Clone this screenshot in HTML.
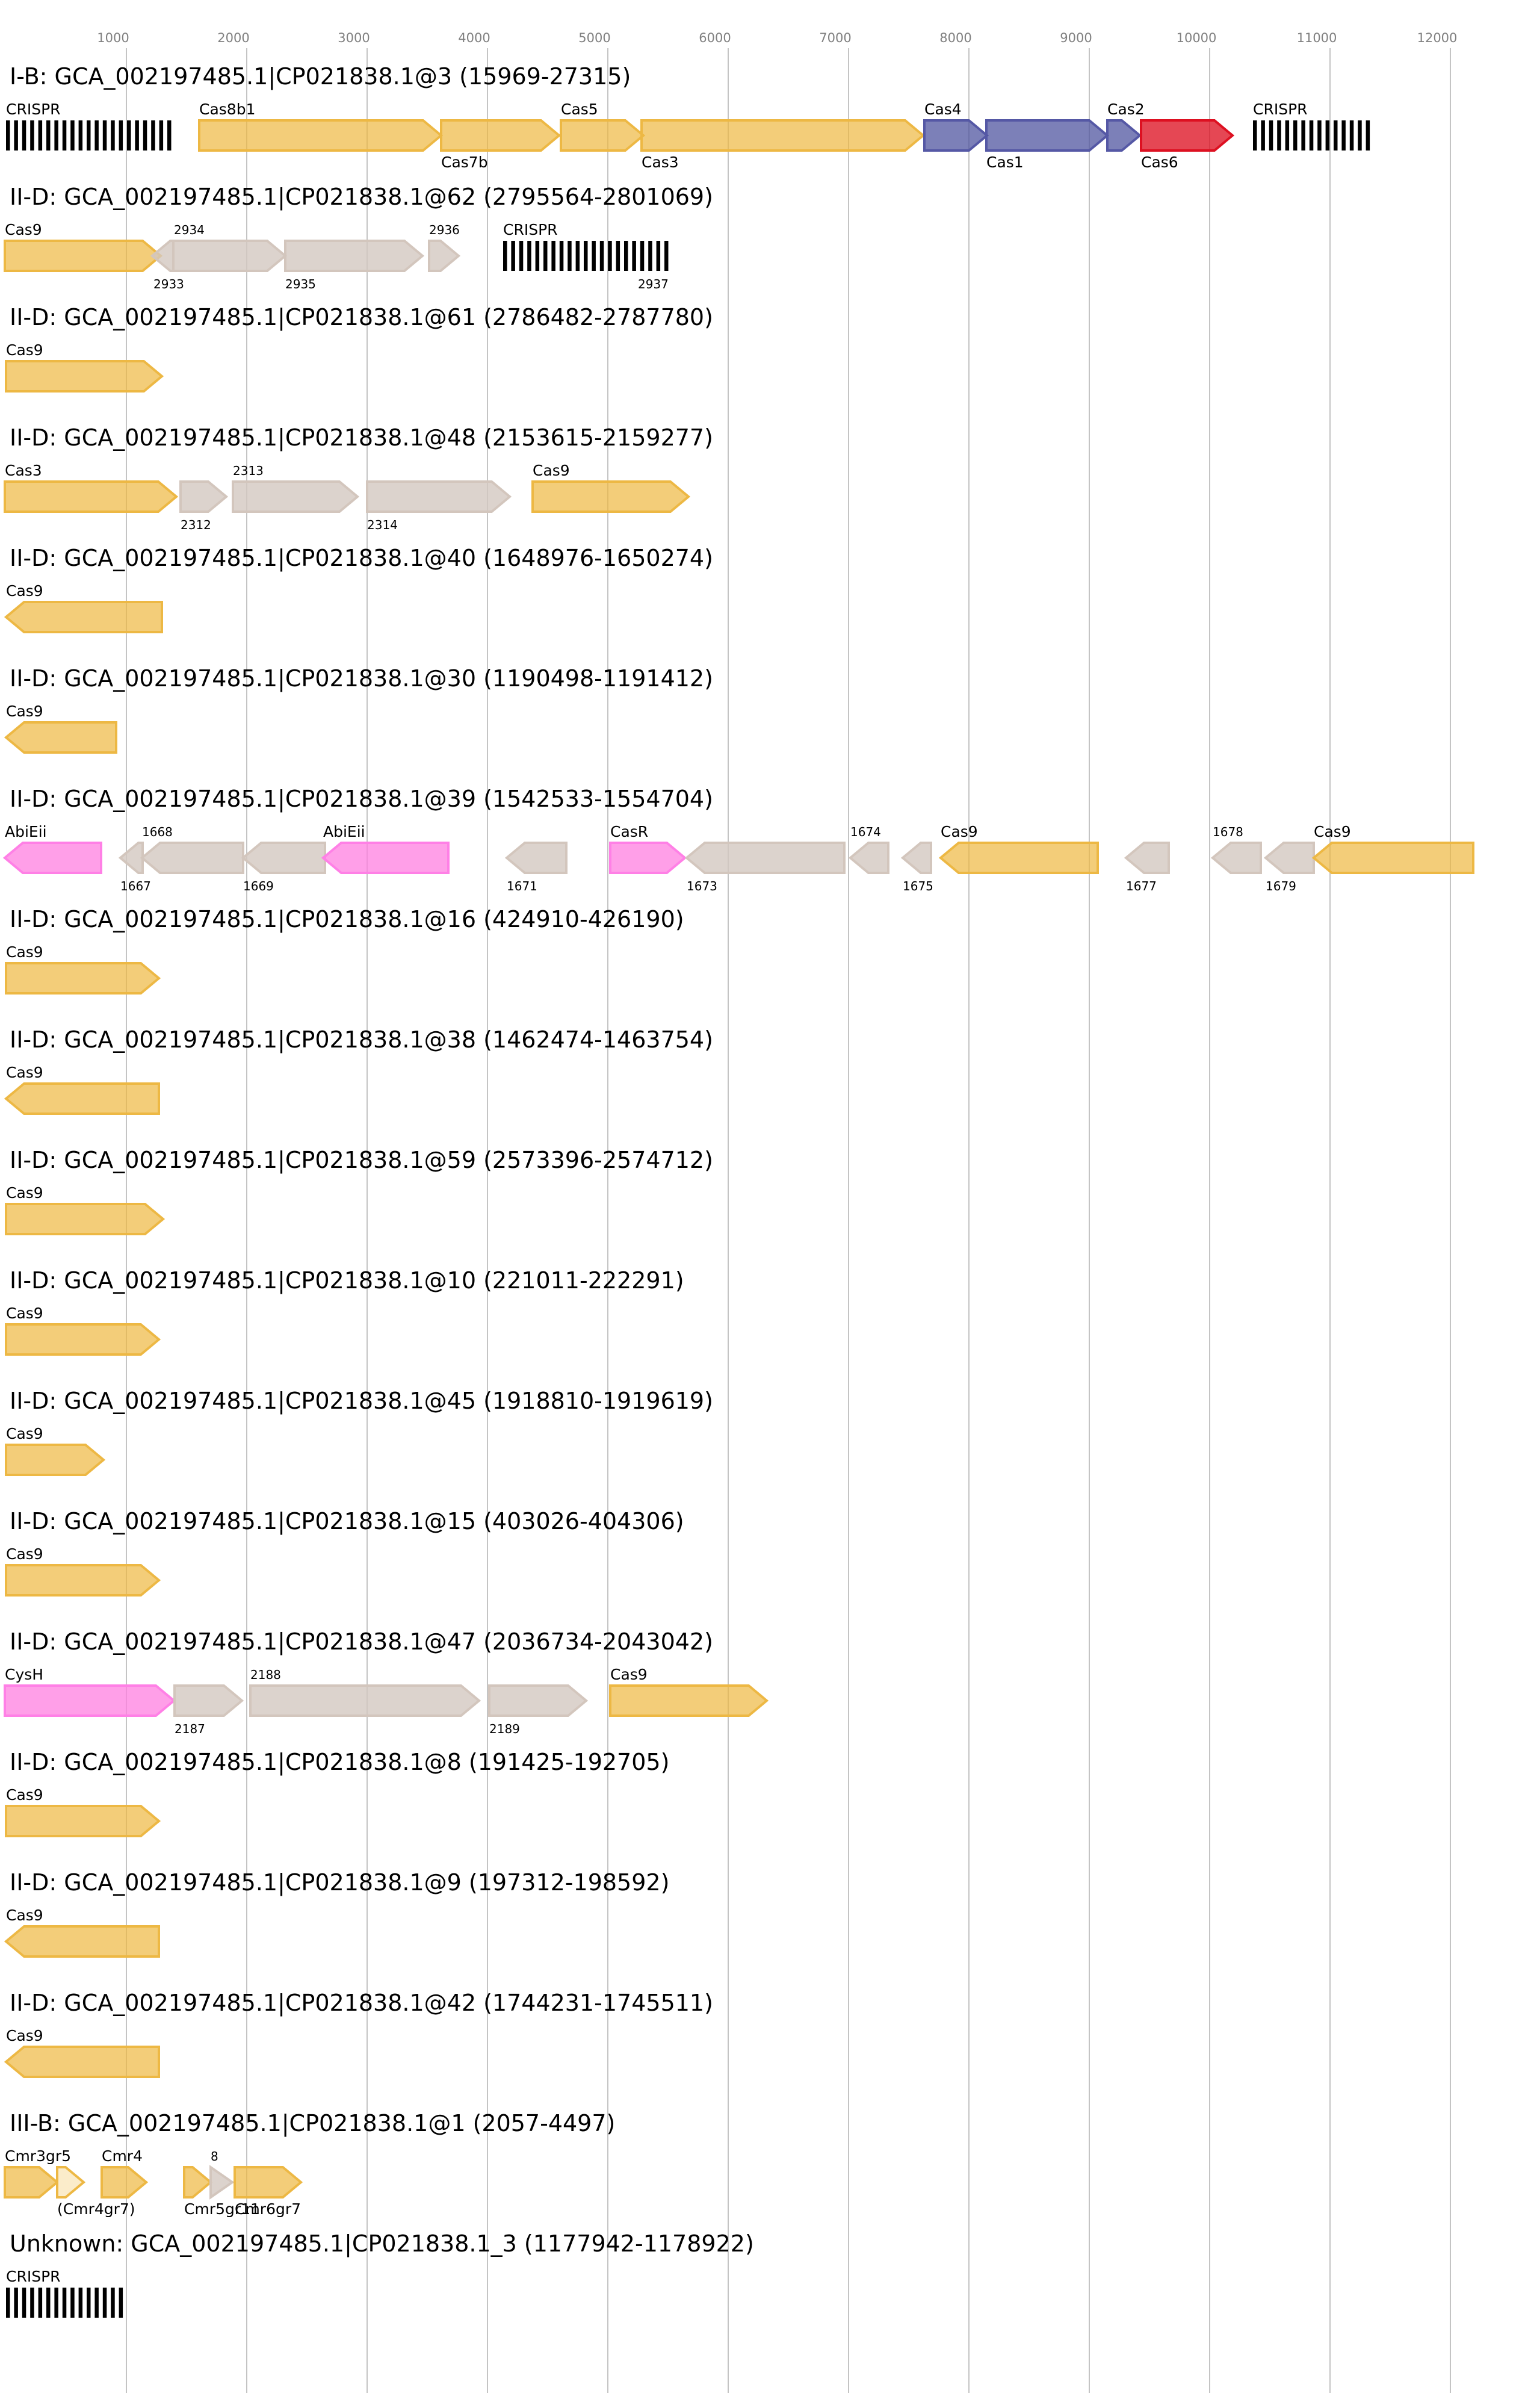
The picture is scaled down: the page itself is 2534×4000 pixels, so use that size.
<!DOCTYPE html>
<html><head><meta charset="utf-8"><style>
html,body{margin:0;padding:0;background:#fff}
svg{display:block}
text{font-family:"DejaVu Sans","Liberation Sans",sans-serif;fill:#000}
.t{font-size:38px}
.l{font-size:25px}
.s{font-size:20px}
.ax{font-size:21px;fill:#808080;text-anchor:middle}
.y{fill:#eeb840;fill-opacity:.7;stroke:#edb844;stroke-width:4}
.yl{fill:#fbecca;stroke:#edb844;stroke-width:4}
.b{fill:#4a4f9d;fill-opacity:.72;stroke:#5558a5;stroke-width:4}
.r{fill:#dd1021;fill-opacity:.77;stroke:#dd1021;stroke-width:4}
.g{fill:#d3c8c0;fill-opacity:.8;stroke:#d3c6bd;stroke-width:4}
.p{fill:#ff7fe0;fill-opacity:.75;stroke:#ff80e6;stroke-width:4}
.c{stroke:#000;stroke-width:50;stroke-dasharray:6.5 6.9}
</style></head><body>
<svg width="2534" height="4000" xmlns="http://www.w3.org/2000/svg">
<g stroke="#c4c4c4" stroke-width="2">
<line x1="210" y1="80" x2="210" y2="3975"/><line x1="410" y1="80" x2="410" y2="3975"/><line x1="610" y1="80" x2="610" y2="3975"/><line x1="810" y1="80" x2="810" y2="3975"/><line x1="1010" y1="80" x2="1010" y2="3975"/><line x1="1210" y1="80" x2="1210" y2="3975"/><line x1="1410" y1="80" x2="1410" y2="3975"/><line x1="1610" y1="80" x2="1610" y2="3975"/><line x1="1810" y1="80" x2="1810" y2="3975"/><line x1="2010" y1="80" x2="2010" y2="3975"/><line x1="2210" y1="80" x2="2210" y2="3975"/><line x1="2410" y1="80" x2="2410" y2="3975"/>
</g>
<g class="ax">
<text class="ax" x="188" y="70">1000</text><text class="ax" x="388" y="70">2000</text><text class="ax" x="588" y="70">3000</text><text class="ax" x="788" y="70">4000</text><text class="ax" x="988" y="70">5000</text><text class="ax" x="1188" y="70">6000</text><text class="ax" x="1388" y="70">7000</text><text class="ax" x="1588" y="70">8000</text><text class="ax" x="1788" y="70">9000</text><text class="ax" x="1988" y="70">10000</text><text class="ax" x="2188" y="70">11000</text><text class="ax" x="2388" y="70">12000</text>
</g>

<g transform="translate(0,127)">
<text class="t" x="16" y="13">I-B: GCA_002197485.1|CP021838.1@3 (15969-27315)</text>
<line class="c" x1="10" y1="98" x2="287" y2="98"/><text class="l" x="10" y="63">CRISPR</text>
<polygon class="y" points="331,73 703,73 733,98 703,123 331,123"/><text class="l" x="331" y="63">Cas8b1</text>
<polygon class="y" points="733,73 899,73 929,98 899,123 733,123"/><text class="l" x="733" y="151">Cas7b</text>
<polygon class="y" points="932,73 1039,73 1069,98 1039,123 932,123"/><text class="l" x="932" y="63">Cas5</text>
<polygon class="y" points="1066,73 1504,73 1534,98 1504,123 1066,123"/><text class="l" x="1066" y="151">Cas3</text>
<polygon class="b" points="1536,73 1610,73 1640,98 1610,123 1536,123"/><text class="l" x="1536" y="63">Cas4</text>
<polygon class="b" points="1639,73 1810,73 1840,98 1810,123 1639,123"/><text class="l" x="1639" y="151">Cas1</text>
<polygon class="b" points="1840,73 1864,73 1894,98 1864,123 1840,123"/><text class="l" x="1840" y="63">Cas2</text>
<polygon class="r" points="1896,73 2018,73 2048,98 2018,123 1896,123"/><text class="l" x="1896" y="151">Cas6</text>
<line class="c" x1="2082" y1="98" x2="2277" y2="98"/><text class="l" x="2082" y="63">CRISPR</text>
</g>

<g transform="translate(0,327)">
<text class="t" x="16" y="13">II-D: GCA_002197485.1|CP021838.1@62 (2795564-2801069)</text>
<polygon class="y" points="8,73 237,73 267,98 237,123 8,123"/><text class="l" x="8" y="63">Cas9</text>
<polygon class="g" points="288,73 283,73 253,98 283,123 288,123"/><text class="s" x="255" y="152">2933</text>
<polygon class="g" points="288,73 444,73 474,98 444,123 288,123"/><text class="s" x="289" y="62">2934</text>
<polygon class="g" points="474,73 672,73 702,98 672,123 474,123"/><text class="s" x="474" y="152">2935</text>
<polygon class="g" points="713,73 732,73 762,98 732,123 713,123"/><text class="s" x="713" y="62">2936</text>
<line class="c" x1="836" y1="98" x2="1111" y2="98"/><text class="l" x="836" y="63">CRISPR</text><text class="s" x="1060" y="152">2937</text>
</g>

<g transform="translate(0,527)">
<text class="t" x="16" y="13">II-D: GCA_002197485.1|CP021838.1@61 (2786482-2787780)</text>
<polygon class="y" points="10,73 239,73 269,98 239,123 10,123"/><text class="l" x="10" y="63">Cas9</text>
</g>

<g transform="translate(0,727)">
<text class="t" x="16" y="13">II-D: GCA_002197485.1|CP021838.1@48 (2153615-2159277)</text>
<polygon class="y" points="8,73 263,73 293,98 263,123 8,123"/><text class="l" x="8" y="63">Cas3</text>
<polygon class="g" points="300,73 346,73 376,98 346,123 300,123"/><text class="s" x="300" y="152">2312</text>
<polygon class="g" points="387,73 564,73 594,98 564,123 387,123"/><text class="s" x="387" y="62">2313</text>
<polygon class="g" points="610,73 817,73 847,98 817,123 610,123"/><text class="s" x="610" y="152">2314</text>
<polygon class="y" points="885,73 1114,73 1144,98 1114,123 885,123"/><text class="l" x="885" y="63">Cas9</text>
</g>

<g transform="translate(0,927)">
<text class="t" x="16" y="13">II-D: GCA_002197485.1|CP021838.1@40 (1648976-1650274)</text>
<polygon class="y" points="269,73 40,73 10,98 40,123 269,123"/><text class="l" x="10" y="63">Cas9</text>
</g>

<g transform="translate(0,1127)">
<text class="t" x="16" y="13">II-D: GCA_002197485.1|CP021838.1@30 (1190498-1191412)</text>
<polygon class="y" points="193,73 40,73 10,98 40,123 193,123"/><text class="l" x="10" y="63">Cas9</text>
</g>

<g transform="translate(0,1327)">
<text class="t" x="16" y="13">II-D: GCA_002197485.1|CP021838.1@39 (1542533-1554704)</text>
<polygon class="p" points="168,73 38,73 8,98 38,123 168,123"/><text class="l" x="8" y="63">AbiEii</text>
<polygon class="g" points="237,73 230,73 200,98 230,123 237,123"/><text class="s" x="200" y="152">1667</text>
<polygon class="g" points="404,73 266,73 236,98 266,123 404,123"/><text class="s" x="236" y="62">1668</text>
<polygon class="g" points="540,73 434,73 404,98 434,123 540,123"/><text class="s" x="404" y="152">1669</text>
<polygon class="p" points="745,73 567,73 537,98 567,123 745,123"/><text class="l" x="537" y="63">AbiEii</text>
<polygon class="g" points="941,73 872,73 842,98 872,123 941,123"/><text class="s" x="842" y="152">1671</text>
<polygon class="p" points="1014,73 1108,73 1138,98 1108,123 1014,123"/><text class="l" x="1014" y="63">CasR</text>
<polygon class="g" points="1403,73 1171,73 1141,98 1171,123 1403,123"/><text class="s" x="1141" y="152">1673</text>
<polygon class="g" points="1476,73 1443,73 1413,98 1443,123 1476,123"/><text class="s" x="1413" y="62">1674</text>
<polygon class="g" points="1547,73 1530,73 1500,98 1530,123 1547,123"/><text class="s" x="1500" y="152">1675</text>
<polygon class="y" points="1824,73 1593,73 1563,98 1593,123 1824,123"/><text class="l" x="1563" y="63">Cas9</text>
<polygon class="g" points="1942,73 1901,73 1871,98 1901,123 1942,123"/><text class="s" x="1871" y="152">1677</text>
<polygon class="g" points="2095,73 2045,73 2015,98 2045,123 2095,123"/><text class="s" x="2015" y="62">1678</text>
<polygon class="g" points="2183,73 2133,73 2103,98 2133,123 2183,123"/><text class="s" x="2103" y="152">1679</text>
<polygon class="y" points="2448,73 2213,73 2183,98 2213,123 2448,123"/><text class="l" x="2183" y="63">Cas9</text>
</g>

<g transform="translate(0,1527)">
<text class="t" x="16" y="13">II-D: GCA_002197485.1|CP021838.1@16 (424910-426190)</text>
<polygon class="y" points="10,73 234,73 264,98 234,123 10,123"/><text class="l" x="10" y="63">Cas9</text>
</g>
<g transform="translate(0,1727)">
<text class="t" x="16" y="13">II-D: GCA_002197485.1|CP021838.1@38 (1462474-1463754)</text>
<polygon class="y" points="264,73 40,73 10,98 40,123 264,123"/><text class="l" x="10" y="63">Cas9</text>
</g>
<g transform="translate(0,1927)">
<text class="t" x="16" y="13">II-D: GCA_002197485.1|CP021838.1@59 (2573396-2574712)</text>
<polygon class="y" points="10,73 241,73 271,98 241,123 10,123"/><text class="l" x="10" y="63">Cas9</text>
</g>
<g transform="translate(0,2127)">
<text class="t" x="16" y="13">II-D: GCA_002197485.1|CP021838.1@10 (221011-222291)</text>
<polygon class="y" points="10,73 234,73 264,98 234,123 10,123"/><text class="l" x="10" y="63">Cas9</text>
</g>
<g transform="translate(0,2327)">
<text class="t" x="16" y="13">II-D: GCA_002197485.1|CP021838.1@45 (1918810-1919619)</text>
<polygon class="y" points="10,73 142,73 172,98 142,123 10,123"/><text class="l" x="10" y="63">Cas9</text>
</g>
<g transform="translate(0,2527)">
<text class="t" x="16" y="13">II-D: GCA_002197485.1|CP021838.1@15 (403026-404306)</text>
<polygon class="y" points="10,73 234,73 264,98 234,123 10,123"/><text class="l" x="10" y="63">Cas9</text>
</g>
<g transform="translate(0,2727)">
<text class="t" x="16" y="13">II-D: GCA_002197485.1|CP021838.1@47 (2036734-2043042)</text>
<polygon class="p" points="8,73 259,73 289,98 259,123 8,123"/><text class="l" x="8" y="63">CysH</text>
<polygon class="g" points="290,73 372,73 402,98 372,123 290,123"/><text class="s" x="290" y="152">2187</text>
<polygon class="g" points="416,73 766,73 796,98 766,123 416,123"/><text class="s" x="416" y="62">2188</text>
<polygon class="g" points="813,73 944,73 974,98 944,123 813,123"/><text class="s" x="813" y="152">2189</text>
<polygon class="y" points="1014,73 1244,73 1274,98 1244,123 1014,123"/><text class="l" x="1014" y="63">Cas9</text>
</g>
<g transform="translate(0,2927)">
<text class="t" x="16" y="13">II-D: GCA_002197485.1|CP021838.1@8 (191425-192705)</text>
<polygon class="y" points="10,73 234,73 264,98 234,123 10,123"/><text class="l" x="10" y="63">Cas9</text>
</g>
<g transform="translate(0,3127)">
<text class="t" x="16" y="13">II-D: GCA_002197485.1|CP021838.1@9 (197312-198592)</text>
<polygon class="y" points="264,73 40,73 10,98 40,123 264,123"/><text class="l" x="10" y="63">Cas9</text>
</g>
<g transform="translate(0,3327)">
<text class="t" x="16" y="13">II-D: GCA_002197485.1|CP021838.1@42 (1744231-1745511)</text>
<polygon class="y" points="264,73 40,73 10,98 40,123 264,123"/><text class="l" x="10" y="63">Cas9</text>
</g>
<g transform="translate(0,3527)">
<text class="t" x="16" y="13">III-B: GCA_002197485.1|CP021838.1@1 (2057-4497)</text>
<polygon class="y" points="8,73 65,73 95,98 65,123 8,123"/><text class="l" x="8" y="63">Cmr3gr5</text>
<polygon class="yl" points="95,73 109,73 139,98 109,123 95,123"/><text class="l" x="95" y="151">(Cmr4gr7)</text>
<polygon class="y" points="169,73 213,73 243,98 213,123 169,123"/><text class="l" x="169" y="63">Cmr4</text>
<polygon class="y" points="306,73 320,73 350,98 320,123 306,123"/><text class="l" x="306" y="151">Cmr5gr11</text>
<polygon class="g" points="350,73 350,73 386,98 350,123 350,123"/><text class="s" x="350" y="62">8</text>
<polygon class="y" points="390,73 470,73 500,98 470,123 390,123"/><text class="l" x="390" y="151">Cmr6gr7</text>
</g>
<g transform="translate(0,3727)">
<text class="t" x="16" y="13">Unknown: GCA_002197485.1|CP021838.1_3 (1177942-1178922)</text>
<line class="c" x1="10" y1="98" x2="207" y2="98"/><text class="l" x="10" y="63">CRISPR</text>
</g>
</svg>
</body></html>
